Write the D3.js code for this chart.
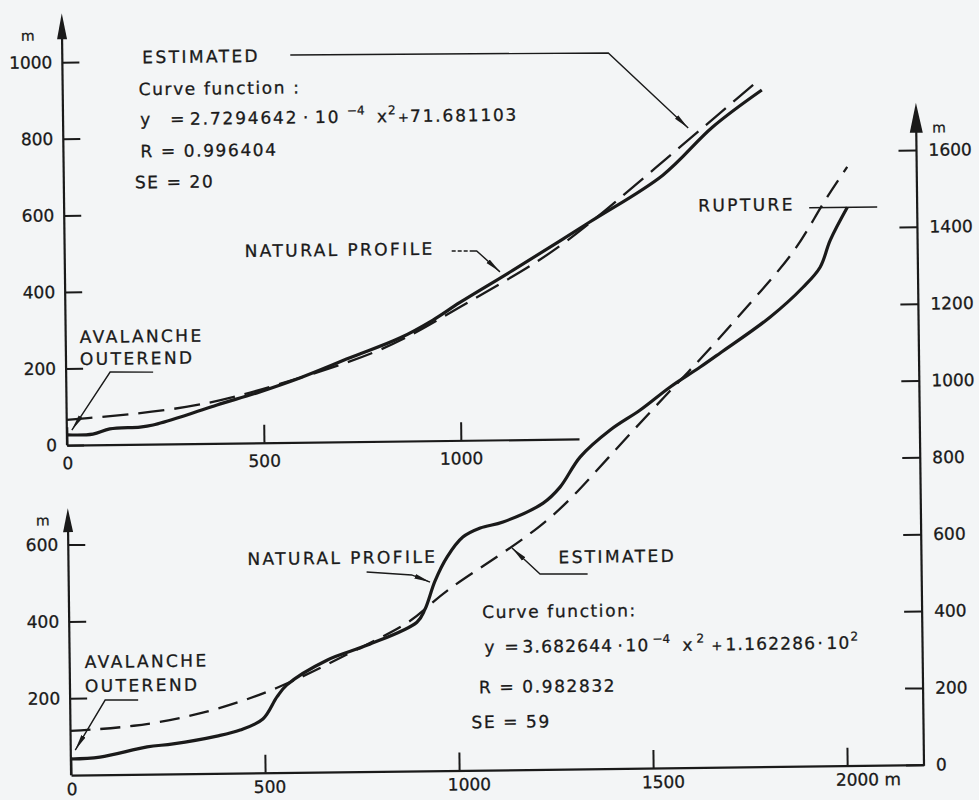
<!DOCTYPE html>
<meta charset="utf-8">
<head>
  <title>Avalanche path profiles</title>
</head>
<style>
  body { margin: 0; background: #f3f5f6; }
  svg text { font-family: "DejaVu Sans", sans-serif; fill: #1a1a1a; stroke: #1a1a1a; stroke-width: 0.3px; }
</style>

<script src="https://d3js.org/d3.v7.min.js"></script>

<div id="chart"></div>

<script>
  // upper path: natural profile and fitted curve (horizontal distance m, elevation m)
  var topNatX = [0, 66, 109, 186, 219, 305, 382, 491, 593, 721, 848, 933, 1002, 1137, 1334, 1521, 1649, 1775];
  var topNatY = [27, 28, 41, 45, 50, 75, 100, 133, 168, 219, 269, 315, 360, 442, 566, 686, 810, 905];
  var topEstX = [0, 321, 535, 805, 958, 1104, 1265, 1496, 1762];
  var topEstY = [66, 90, 150, 233, 323, 407, 501, 700, 926];

  // lower path
  var botNatX = [0, 75, 197, 264, 377, 437, 496, 533, 559, 663, 768, 896, 917, 944, 976, 1017, 1062, 1121,
    1225, 1269, 1322, 1400, 1478, 1556, 1634, 1686, 1816, 1902, 1946, 1973, 2018];
  var botNatY = [42, 46, 71, 78, 97, 112, 140, 197, 228, 291, 329, 387, 420, 494, 556, 607, 630, 645,
    693, 734, 812, 881, 932, 991, 1042, 1078, 1170, 1247, 1298, 1368, 1453];
  var botEstX = [0, 161, 334, 534, 723, 871, 923, 975, 1053, 1131, 1216, 1295, 1381, 1556, 1634, 1772, 1887, 1948, 2019];
  var botEstY = [115, 123, 152, 215, 310, 380, 426, 470, 521, 572, 631, 700, 795, 983, 1060, 1215, 1343, 1455, 1558];

  var ruptureElev = 1453;

  // ticks
  var topXTicks = [0, 500, 1000];
  var topYTicks = [0, 200, 400, 600, 800, 1000];
  var botXTicks = [0, 500, 1000, 1500, 2000];
  var botLeftTicks = [200, 400, 600];
  var botRightTicks = [0, 200, 400, 600, 800, 1000, 1200, 1400, 1600];

  var ink = "#1a1a1a";
  var width = 979, height = 800;
  var plain = d3.format("d");

  var svg = d3.select("#chart").append("svg")
    .attr("width", width)
    .attr("height", height);

  svg.append("rect").attr("width", width).attr("height", height).attr("fill", "#f3f5f6");

  var defs = svg.append("defs");
  defs.append("marker")
    .attr("id", "tip")
    .attr("viewBox", "0 0 16 6")
    .attr("refX", 16).attr("refY", 3)
    .attr("markerWidth", 16).attr("markerHeight", 6)
    .attr("markerUnits", "userSpaceOnUse")
    .attr("orient", "auto")
    .append("path")
    .attr("d", "M0,0.6L16,3L0,5.4Z")
    .attr("fill", ink);

  // the original page is scanned a little crooked
  var g = svg.append("g").attr("transform", "rotate(-0.7,490,440)");

  // scales
  var xTop = d3.scaleLinear().domain([0, 1300]).range([67, 579]);
  var yTop = d3.scaleLinear().domain([0, 1000]).range([440, 57]);
  var xBot = d3.scaleLinear().domain([0, 2198]).range([67, 920]);
  var yBot = d3.scaleLinear().domain([0, 1600]).range([770, 155.2]);

  function styleAxis(a) {
    a.select(".domain").attr("stroke", ink).attr("stroke-width", 2.2);
    a.selectAll(".tick line").attr("stroke", ink).attr("stroke-width", 2);
    a.selectAll(".tick text").style("font-size", "17px");
  }

  function vline(x, y1, y2) {
    g.append("line").attr("x1", x).attr("x2", x).attr("y1", y1).attr("y2", y2)
      .attr("stroke", ink).attr("stroke-width", 2.2);
  }

  function axisArrow(x, tip, len, half) {
    g.append("path")
      .attr("d", "M" + x + "," + tip + "L" + (x + half) + "," + (tip + len) + "L" + (x - half) + "," + (tip + len) + "Z")
      .attr("fill", ink);
  }

  // ---------- upper panel axes ----------
  var axTopX = g.append("g")
    .attr("transform", "translate(0," + yTop(0) + ")")
    .call(d3.axisBottom(xTop).tickValues(topXTicks).tickFormat(plain)
      .tickSize(-18).tickSizeOuter(0).tickPadding(12));
  styleAxis(axTopX);

  var axTopY = g.append("g")
    .attr("transform", "translate(" + xTop(0) + ",0)")
    .call(d3.axisLeft(yTop).tickValues(topYTicks).tickFormat(plain).tickSize(-17).tickPadding(10));
  axTopY.select(".domain").remove();
  styleAxis(axTopY);
  vline(xTop(0), yTop(0), 20);
  axisArrow(xTop(0), 8, 26, 5);
  g.append("text").attr("x", 26).attr("y", 35).style("font-size", "14px").text("m");

  // ---------- lower panel axes ----------
  var axBotX = g.append("g")
    .attr("transform", "translate(0," + yBot(0) + ")")
    .call(d3.axisBottom(xBot).tickValues(botXTicks).tickSize(-18).tickSizeOuter(0).tickPadding(8)
      .tickFormat(function(d) { return d === 2000 ? "2000 m" : plain(d); }));
  styleAxis(axBotX);
  axBotX.selectAll(".tick text")
    .attr("text-anchor", "start")
    .attr("dx", function(d) { return d === 0 ? -5 : -12; });

  var axBotL = g.append("g")
    .attr("transform", "translate(" + xBot(0) + ",0)")
    .call(d3.axisLeft(yBot).tickValues(botLeftTicks).tickFormat(plain).tickSize(-17).tickPadding(10));
  axBotL.select(".domain").remove();
  styleAxis(axBotL);
  vline(xBot(0), yBot(0), 515);
  axisArrow(xBot(0), 503, 24, 5);
  g.append("text").attr("x", 35).attr("y", 520).style("font-size", "14px").text("m");

  var axBotR = g.append("g")
    .attr("transform", "translate(" + xBot(2198) + ",0)")
    .call(d3.axisRight(yBot).tickValues(botRightTicks).tickFormat(plain).tickSize(-18).tickPadding(12));
  axBotR.select(".domain").remove();
  styleAxis(axBotR);
  vline(xBot(2198), yBot(0) + 1, 125);
  axisArrow(xBot(2198), 108, 30, 6.5);
  g.append("text").attr("x", 936).attr("y", 138).style("font-size", "14px").text("m");

  // ---------- curves ----------
  function pts(xs, ys) {
    return xs.map(function(d, i) { return [d, ys[i]]; });
  }

  var natTop = d3.line().x(function(d) { return xTop(d[0]); }).y(function(d) { return yTop(d[1]); })
    .curve(d3.curveCatmullRom.alpha(0.5));
  var estTop = d3.line().x(function(d) { return xTop(d[0]); }).y(function(d) { return yTop(d[1]); })
    .curve(d3.curveBasis);
  var natBot = d3.line().x(function(d) { return xBot(d[0]); }).y(function(d) { return yBot(d[1]); })
    .curve(d3.curveCatmullRom.alpha(0.5));
  var estBot = d3.line().x(function(d) { return xBot(d[0]); }).y(function(d) { return yBot(d[1]); })
    .curve(d3.curveBasis);

  g.append("path").attr("d", estTop(pts(topEstX, topEstY)))
    .attr("fill", "none").attr("stroke", ink).attr("stroke-width", 2.3).attr("stroke-dasharray", "26,10");
  g.append("path").attr("d", natTop(pts(topNatX, topNatY)))
    .attr("fill", "none").attr("stroke", ink).attr("stroke-width", 3.2).attr("stroke-linejoin", "round");

  g.append("path").attr("d", estBot(pts(botEstX, botEstY)))
    .attr("fill", "none").attr("stroke", ink).attr("stroke-width", 2.3).attr("stroke-dasharray", "20,10");
  g.append("path").attr("d", natBot(pts(botNatX, botNatY)))
    .attr("fill", "none").attr("stroke", ink).attr("stroke-width", 3.2).attr("stroke-linejoin", "round");

  // ---------- labels and leaders ----------
  function caption(x, y, t) {
    g.append("text").attr("x", x).attr("y", y)
      .style("font-size", "17px").style("letter-spacing", "2.4px").text(t);
  }

  function leader(points, arrow, dash) {
    var p = g.append("path").attr("d", d3.line()(points))
      .attr("fill", "none").attr("stroke", ink).attr("stroke-width", 1.4);
    if (arrow) p.attr("marker-end", "url(#tip)");
    if (dash) p.attr("stroke-dasharray", dash);
  }

  function info(x, y, t) {
    g.append("text").attr("x", x).attr("y", y)
      .style("font-size", "17px").style("letter-spacing", "1.6px").text(t);
  }

  // pieces of a curve function line: [x, text, kind] kind: "sup" raised, "small" for the plus sign
  function equation(y, parts, spacing) {
    var t = g.append("text").attr("y", y).style("font-size", "17px").style("letter-spacing", spacing + "px");
    parts.forEach(function(p) {
      var s = t.append("tspan").attr("x", p[0]).attr("y", y).text(p[1]);
      if (p[2] === "sup") s.attr("y", y - 8).style("font-size", "12px").style("letter-spacing", "0px");
      if (p[2] === "small") s.style("font-size", "13px").style("letter-spacing", "0px");
    });
  }

  // upper panel
  caption(147, 59, "ESTIMATED");
  leader([[295, 52.6], [613, 54.4], [692, 130.4]], true);
  info(143, 91, "Curve function :");
  equation(121, [[144, "y"], [174, "="], [194, "2.7294642"], [307, "·"], [319, "10"], [351, "−4", "sup"],
    [381, "x"], [392, "2", "sup"], [402, "+", "small"], [414, "71.681103"]], 1.8);
  info(144, 153, "R  =  0.996404");
  info(138, 184, "SE  =  20");

  caption(247, 254, "NATURAL PROFILE");
  leader([[454, 250.5], [472, 250.7]], false, "4,2");
  leader([[472, 250.7], [479, 250.8], [502, 272]], true);

  caption(81, 338, "AVALANCHE");
  caption(81, 360, "OUTEREND");
  leader([[154, 368], [111, 367.4], [72, 425]], true);

  // lower panel
  caption(246, 562, "NATURAL PROFILE");
  leader([[365, 570.5], [410, 574], [428.3, 581.3]], true);

  caption(557, 564, "ESTIMATED");
  leader([[586, 575.2], [538.4, 574.6], [510.7, 548.3]], true);

  info(480, 618, "Curve function:");
  equation(653, [[482, "y"], [502, "="], [520, "3.682644"], [615, "·"], [623, "10"], [650, "−4", "sup"],
    [680, "x"], [694, "2", "sup"], [709, "+", "small"], [723, "1.162286"], [815, "·"], [824, "10"], [848, "2", "sup"]], 1.2);
  info(476, 693, "R  = 0.982832");
  info(468, 728, "SE = 59");

  caption(82, 663, "AVALANCHE");
  caption(82, 687, "OUTEREND");
  leader([[135, 695.7], [102, 695.3], [71.5, 745]], true);

  caption(701, 214, "RUPTURE");
  g.append("line")
    .attr("x1", 812).attr("x2", 880)
    .attr("y1", yBot(ruptureElev)).attr("y2", yBot(ruptureElev))
    .attr("stroke", ink).attr("stroke-width", 1.5);
</script>
